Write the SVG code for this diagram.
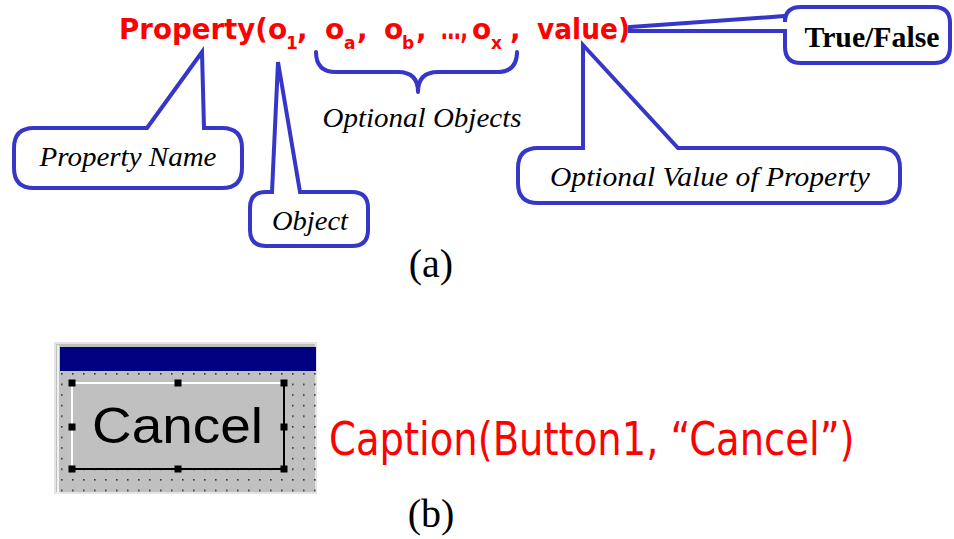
<svg xmlns="http://www.w3.org/2000/svg" width="954" height="539" viewBox="0 0 954 539">
  <style>
    .callout { fill: #ffffff; stroke: #3636c8; stroke-width: 4; stroke-linejoin: miter; }
    .brace { fill: none; stroke: #3636c8; stroke-width: 4; stroke-linecap: round; stroke-linejoin: round; }
    .lbl { font-family: "Liberation Serif", "Times New Roman", serif; font-style: italic; font-size: 28px; fill: #000; }
    .lblb { font-family: "Liberation Serif", "Times New Roman", serif; font-weight: bold; font-size: 29px; fill: #000; }
    .tag { font-family: "Liberation Serif", "Times New Roman", serif; font-size: 40px; fill: #000; }
    .code { font-family: "Comic Sans MS", "DejaVu Sans", sans-serif; font-weight: bold; font-size: 28px; fill: #ff0000; }
    .sub { font-size: 17px; }
    .cap { font-family: "Comic Sans MS", "DejaVu Sans", sans-serif; font-size: 46px; fill: #ff0000; }
    .handle { fill: #000; }
    .dot { fill: #333; }
  </style>
  <defs>
    <pattern id="grid" x="61" y="373" width="11" height="10.6" patternUnits="userSpaceOnUse">
      <rect x="0" y="0" width="1.6" height="1.6" class="dot"/>
    </pattern>
  </defs>

  <rect width="954" height="539" fill="#ffffff"/>

  <!-- (a) the property expression, subscripts dropped by 10px -->
  <g id="expression">
    <text class="code" y="39"><tspan x="119" textLength="149" lengthAdjust="spacingAndGlyphs">Property(</tspan><tspan x="268">o</tspan><tspan class="sub" x="286" dy="10">1</tspan><tspan x="297" dy="-10">,</tspan><tspan x="325">o</tspan><tspan class="sub" x="344" dy="10">a</tspan><tspan x="357" dy="-10">,</tspan><tspan x="384">o</tspan><tspan class="sub" x="402" dy="10">b</tspan><tspan x="416" dy="-10">,</tspan></text>
    <text class="code" transform="translate(441,39) scale(0.7,1)" x="0" y="0">…,</text>
    <text class="code" y="39"><tspan x="472">o</tspan><tspan class="sub" x="491" dy="10">x</tspan><tspan x="510" dy="-10">,</tspan><tspan x="537" textLength="93" lengthAdjust="spacingAndGlyphs">value)</tspan></text>
  </g>

  <!-- callouts -->
  <g id="property-name">
    <path class="callout" d="M147,128 L202,52 L204,128 L222,128 Q242,128 242,148 L242,168 Q242,188 222,188 L34,188 Q14,188 14,168 L14,148 Q14,128 34,128 Z"/>
    <text class="lbl" x="128" y="166" text-anchor="middle" textLength="177" lengthAdjust="spacingAndGlyphs">Property Name</text>
  </g>

  <g id="object">
    <path class="callout" d="M272,192 L278,62 L300,192 L352,192 Q368,192 368,208 L368,230 Q368,246 352,246 L266,246 Q250,246 250,230 L250,208 Q250,192 266,192 Z"/>
    <text class="lbl" x="310" y="230" text-anchor="middle" textLength="76" lengthAdjust="spacingAndGlyphs">Object</text>
  </g>

  <g id="optional-value">
    <path class="callout" d="M583,148 L583,45 L678,148 L880,148 Q900,148 900,168 L900,183 Q900,203 880,203 L538,203 Q518,203 518,183 L518,168 Q518,148 538,148 Z"/>
    <text class="lbl" x="710" y="186" text-anchor="middle" textLength="320" lengthAdjust="spacingAndGlyphs">Optional Value of Property</text>
  </g>

  <g id="true-false">
    <path class="callout" d="M630,27 L785,16 L785,22 Q785,7 801,7 L934,7 Q950,7 950,23 L950,47 Q950,63 934,63 L801,63 Q785,63 785,47 L785,31 L630,31 Z"/>
    <text class="lblb" x="872" y="47" text-anchor="middle" textLength="135" lengthAdjust="spacingAndGlyphs">True/False</text>
  </g>

  <g id="optional-objects">
    <text class="lbl" x="422" y="127" text-anchor="middle" textLength="199" lengthAdjust="spacingAndGlyphs">Optional Objects</text>
  </g>

  <g id="connectors">
    <path class="brace" d="M316,52 Q316,72 336,72 L398,72 Q418,72 418,92 Q418,72 438,72 L497,72 Q517,72 517,52"/>
  </g>

  <text class="tag" x="431" y="277" text-anchor="middle">(a)</text>

  <!-- (b) form designer with a selected button -->
  <g id="form">
    <rect x="55" y="343" width="261" height="150" fill="#c0c0c0"/>
    <rect x="55" y="343" width="261" height="150" fill="none" stroke="#e4e4e4" stroke-width="2"/>
    <line x1="58" y1="345" x2="58" y2="493" stroke="#ffffff" stroke-width="1.5"/>
    <rect x="60" y="372" width="256" height="121" fill="url(#grid)"/>
    <rect x="60" y="347" width="256" height="24" fill="#000080"/>
    <rect x="72" y="383" width="212" height="86" fill="#c0c0c0"/>
    <polyline points="72,469 72,383 284,383" fill="none" stroke="#ffffff" stroke-width="2"/>
    <polyline points="72,469 284,469 284,383" fill="none" stroke="#000000" stroke-width="2"/>
    <text x="92" y="443" font-family="Liberation Sans, Arial, sans-serif" font-size="50" fill="#000" textLength="171" lengthAdjust="spacingAndGlyphs">Cancel</text>
    <rect class="handle" x="68.5" y="379.5" width="7" height="7"/>
    <rect class="handle" x="174.5" y="379.5" width="7" height="7"/>
    <rect class="handle" x="280.5" y="379.5" width="7" height="7"/>
    <rect class="handle" x="68.5" y="423.5" width="7" height="7"/>
    <rect class="handle" x="280.5" y="423.5" width="7" height="7"/>
    <rect class="handle" x="68.5" y="465.5" width="7" height="7"/>
    <rect class="handle" x="174.5" y="465.5" width="7" height="7"/>
    <rect class="handle" x="280.5" y="465.5" width="7" height="7"/>
  </g>

  <!-- caption, condensed horizontally -->
  <g id="caption">
    <text class="cap" transform="translate(329,455) scale(0.73,1)" x="0" y="0" textLength="720" lengthAdjust="spacingAndGlyphs">Caption(Button1, “Cancel”)</text>
  </g>

  <text class="tag" x="431" y="527" text-anchor="middle">(b)</text>
</svg>
